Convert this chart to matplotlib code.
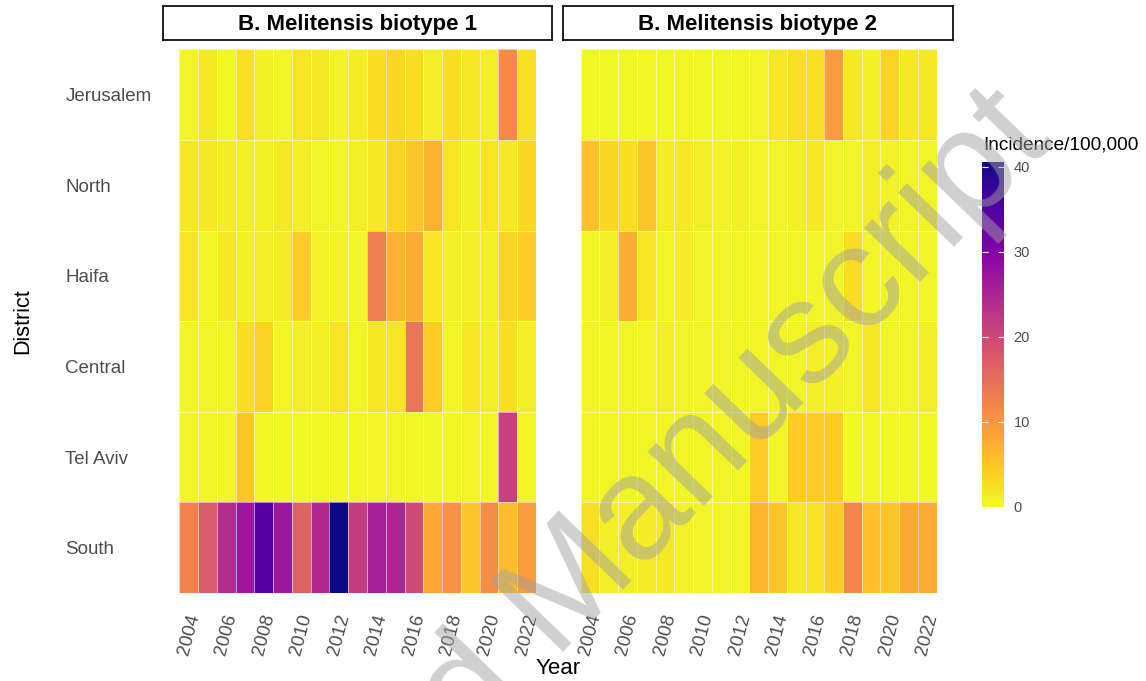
import matplotlib
matplotlib.use("Agg")
import matplotlib.pyplot as plt
import numpy as np

plt.rcParams["font.family"] = ["Liberation Sans", "DejaVu Sans"]

years = list(range(2004, 2023))
districts = ["Jerusalem", "North", "Haifa", "Central", "Tel Aviv", "South"]
panel_titles = ["B. Melitensis biotype 1", "B. Melitensis biotype 2"]

# incidence per 100,000, rows follow `districts`, columns follow `years`
biotype1 = [
    [0.5, 1.5, 0.3, 2.5, 0.8, 0.5, 2.0, 1.5, 0.7, 1.3, 2.7, 3.3, 2.7, 1.2, 2.7, 1.6, 1.2, 11.5, 2.5],
    [1.5, 1.7, 1.3, 1.0, 0.8, 1.5, 1.2, 0.6, 0.5, 1.2, 1.6, 3.5, 5.0, 7.0, 2.0, 0.8, 2.0, 1.6, 3.2],
    [2.0, 0.4, 1.5, 0.8, 1.1, 1.4, 4.5, 0.7, 0.7, 0.5, 13.0, 7.0, 7.5, 2.0, 1.0, 1.2, 1.2, 3.5, 4.5],
    [0.4, 0.5, 0.6, 2.8, 3.8, 0.4, 1.1, 0.9, 2.0, 0.6, 1.5, 2.0, 14.0, 4.5, 0.4, 1.8, 1.1, 2.8, 1.0],
    [0.4, 0.4, 0.5, 5.0, 0.3, 0.3, 0.3, 0.3, 0.3, 0.3, 0.4, 0.4, 0.3, 0.3, 0.3, 0.4, 0.4, 21.0, 0.4],
    [12.5, 17.6, 24.0, 27.0, 34.5, 27.0, 16.5, 24.5, 40.6, 21.5, 26.0, 25.0, 19.7, 8.0, 10.5, 5.0, 11.0, 6.0, 9.5],
]
biotype2 = [
    [0.3, 0.3, 0.3, 0.3, 0.3, 0.4, 0.3, 0.3, 0.3, 0.6, 1.8, 2.4, 2.4, 9.5, 1.5, 0.9, 3.5, 1.5, 1.5],
    [5.5, 3.3, 2.7, 5.0, 1.4, 1.6, 1.0, 0.7, 0.9, 0.5, 0.5, 0.9, 1.5, 0.5, 0.6, 1.1, 0.7, 0.6, 0.5],
    [0.4, 1.2, 7.5, 1.8, 0.4, 1.4, 0.5, 0.4, 0.4, 0.4, 0.4, 0.4, 0.5, 0.5, 2.7, 0.5, 0.5, 0.5, 0.6],
    [0.4, 0.4, 0.4, 0.5, 1.1, 0.6, 0.5, 0.4, 0.4, 0.4, 0.4, 0.6, 1.2, 0.8, 0.5, 1.5, 0.5, 0.5, 1.0],
    [0.4, 0.4, 0.4, 0.4, 0.4, 0.4, 0.4, 0.4, 0.4, 4.5, 0.4, 4.5, 4.5, 4.5, 0.3, 0.3, 0.3, 0.3, 0.3],
    [2.5, 1.0, 1.0, 1.3, 1.5, 0.7, 0.6, 0.4, 0.4, 6.5, 5.0, 1.8, 2.2, 4.5, 12.0, 5.5, 5.0, 8.0, 7.5],
]
cbar_ticks = [0, 10, 20, 30, 40]

W, H = 1146, 681
fig = plt.figure(figsize=(W / 100, H / 100), dpi=100)


def px_rect(x0, y0, x1, y1):
    # pixel box (top-left origin) -> figure fraction rect
    return [x0 / W, 1 - y1 / H, (x1 - x0) / W, (y1 - y0) / H]


vmin, vmax = 0, 40.6
cmap = plt.get_cmap("plasma_r")
grey = "#4d4d4d"

tile_boxes = [(179.3, 49.3, 536.0, 593.0), (580.7, 49.3, 936.7, 593.0)]
strip_boxes = [(163, 6, 552, 40), (563, 6, 953, 40)]

x_edges = np.arange(len(years) + 1) - 0.5
y_edges = np.arange(len(districts) + 1) - 0.5

mesh = None
for i, (data, title) in enumerate(zip([biotype1, biotype2], panel_titles)):
    ax = fig.add_axes(px_rect(*tile_boxes[i]))
    mesh = ax.pcolormesh(x_edges, y_edges, np.array(data), cmap=cmap, vmin=vmin, vmax=vmax,
                         edgecolors=(1, 1, 1, 0.55), linewidth=0.7)
    ax.set_xlim(x_edges[0], x_edges[-1])
    ax.set_ylim(y_edges[-1], y_edges[0])
    for s in ax.spines.values():
        s.set_visible(False)
    ax.set_xticks(np.arange(len(years))[::2])
    ax.set_xticklabels([str(y) for y in years[::2]], rotation=75, ha="center", va="top",
                       color=grey, fontsize=13.5)
    ax.tick_params(axis="x", length=0, pad=14)
    ax.set_yticks(np.arange(len(districts)))
    if i == 0:
        ax.set_yticklabels(districts, color=grey, fontsize=13.5)
        ax.tick_params(axis="y", length=0, pad=82)
        for lbl in ax.get_yticklabels():
            lbl.set_horizontalalignment("left")
        ax.set_ylabel("District", fontsize=15.5)
        ax.yaxis.set_label_coords(-0.41, 0.5)
    else:
        ax.set_yticklabels([])
        ax.tick_params(axis="y", length=0)

    sax = fig.add_axes(px_rect(*strip_boxes[i]))
    sax.set_xticks([])
    sax.set_yticks([])
    for s in sax.spines.values():
        s.set_linewidth(1.3)
        s.set_color("#111111")
    sax.text(0.5, 0.47, title, ha="center", va="center", fontsize=16, fontweight="bold",
             transform=sax.transAxes)

fig.text(558 / W, 1 - 674 / H, "Year", ha="center", va="baseline", fontsize=16)

# colour bar
cax = fig.add_axes(px_rect(981.7, 161.7, 1004.0, 506.7))
cb = fig.colorbar(mesh, cax=cax, ticks=cbar_ticks)
cb.outline.set_visible(False)
cax.tick_params(direction="in", length=4, width=0.8, color="white", left=True, right=True,
                labelleft=False, labelright=True, labelcolor=grey, labelsize=10.5, pad=7)
fig.text(983 / W, 1 - 150 / H, "Incidence/100,000", ha="left", va="baseline", fontsize=13.7)

# watermark
fig.text(551 / W, 1 - 610 / H, "Accepted Manuscript", ha="center", va="center",
         rotation=46, rotation_mode="anchor", fontsize=106, color=(0.63, 0.63, 0.63),
         alpha=0.5, zorder=10)

fig.savefig("out.png", dpi=100)
